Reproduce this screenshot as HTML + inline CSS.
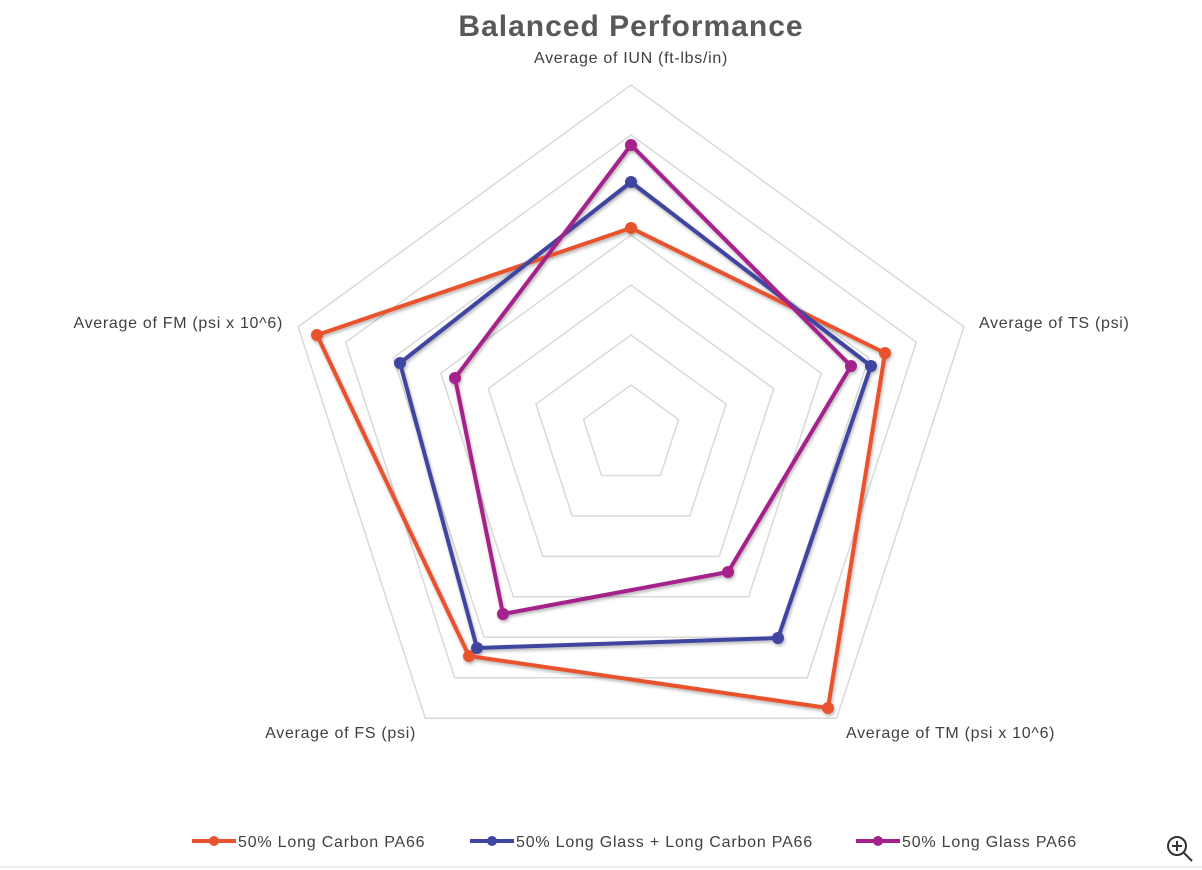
<!DOCTYPE html>
<html><head><meta charset="utf-8"><style>
html,body{margin:0;padding:0;background:#fff;}
svg{display:block;font-family:"Liberation Sans",sans-serif;}
</style></head><body>
<svg width="1202" height="870" viewBox="0 0 1202 870">
<defs><filter id="sh" x="-10%" y="-10%" width="120%" height="120%"><feDropShadow dx="1" dy="2" stdDeviation="1.5" flood-color="#000" flood-opacity="0.3"/></filter></defs>
<text x="631" y="36" text-anchor="middle" font-size="30" font-weight="bold" fill="#595959" letter-spacing="1">Balanced Performance</text>
<g fill="none" stroke="#d9d9d9" stroke-width="1.5">
<polygon points="631,385 678.6,419.5 660.4,475.5 601.6,475.5 583.4,419.5"/>
<polygon points="631,335 726.1,404.1 689.8,515.9 572.2,515.9 535.9,404.1"/>
<polygon points="631,285 773.7,388.6 719.2,556.4 542.8,556.4 488.3,388.6"/>
<polygon points="631,235 821.2,373.2 748.6,596.8 513.4,596.8 440.8,373.2"/>
<polygon points="631,185 868.8,357.7 778.0,637.3 484.0,637.3 393.2,357.7"/>
<polygon points="631,135 916.3,342.3 807.3,677.7 454.7,677.7 345.7,342.3"/>
<polygon points="631,85 963.9,326.8 836.7,718.2 425.3,718.2 298.1,326.8"/>
</g>
<g font-size="16" fill="#404040" letter-spacing="0.7">
<text x="631" y="63" text-anchor="middle">Average of IUN (ft-lbs/in)</text>
<text x="979" y="328">Average of TS (psi)</text>
<text x="846" y="738">Average of TM (psi x 10^6)</text>
<text x="416" y="738" text-anchor="end">Average of FS (psi)</text>
<text x="283" y="328" text-anchor="end">Average of FM (psi x 10^6)</text>
</g>
<g stroke-width="4" stroke-linejoin="round" filter="url(#sh)">
<polygon points="631,228 885,353 828,708 469,656 317,335" fill="none" stroke="#e8522e"/>
<g fill="#e8522e"><circle cx="631" cy="228" r="6"/><circle cx="885" cy="353" r="6"/><circle cx="828" cy="708" r="6"/><circle cx="469" cy="656" r="6"/><circle cx="317" cy="335" r="6"/></g>
<polygon points="631,182 871,366 778,638 477,648 400,363" fill="none" stroke="#3f45a0"/>
<g fill="#3f45a0"><circle cx="631" cy="182" r="6"/><circle cx="871" cy="366" r="6"/><circle cx="778" cy="638" r="6"/><circle cx="477" cy="648" r="6"/><circle cx="400" cy="363" r="6"/></g>
<polygon points="631,145 851,366 728,572 503,614 455,378" fill="none" stroke="#a4208a"/>
<g fill="#a4208a"><circle cx="631" cy="145" r="6"/><circle cx="851" cy="366" r="6"/><circle cx="728" cy="572" r="6"/><circle cx="503" cy="614" r="6"/><circle cx="455" cy="378" r="6"/></g>
</g>
<g font-size="16" fill="#404040" letter-spacing="0.8">
<line x1="192" y1="841" x2="236" y2="841" stroke="#e8522e" stroke-width="4"/><circle cx="214" cy="841" r="5" fill="#e8522e"/>
<text x="238" y="847">50% Long Carbon PA66</text>
<line x1="470" y1="841" x2="514" y2="841" stroke="#3f45a0" stroke-width="4"/><circle cx="492" cy="841" r="5" fill="#3f45a0"/>
<text x="516" y="847">50% Long Glass + Long Carbon PA66</text>
<line x1="856" y1="841" x2="900" y2="841" stroke="#a4208a" stroke-width="4"/><circle cx="878" cy="841" r="5" fill="#a4208a"/>
<text x="902" y="847">50% Long Glass PA66</text>
</g>
<line x1="0" y1="867" x2="1202" y2="867" stroke="#d9d9d9" stroke-width="1"/>
<g stroke="#333" stroke-width="2" fill="none">
<circle cx="1177" cy="846" r="9"/><line x1="1184" y1="853" x2="1192" y2="861"/>
<line x1="1172" y1="846" x2="1182" y2="846"/><line x1="1177" y1="841" x2="1177" y2="851"/>
</g>
</svg>
</body></html>
